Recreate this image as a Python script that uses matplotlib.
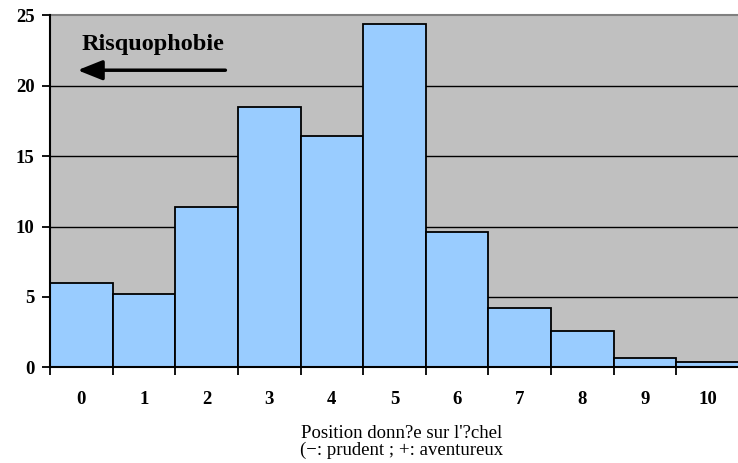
import matplotlib
matplotlib.use("Agg")
import matplotlib.pyplot as plt
import numpy as np

categories = ["0", "1", "2", "3", "4", "5", "6", "7", "8", "9", "10"]
values = [6.0, 5.2, 11.4, 18.5, 16.4, 24.4, 9.6, 4.2, 2.6, 0.65, 0.38]
yticks = [0, 5, 10, 15, 20, 25]

plt.rcParams['font.family'] = ['Liberation Serif', 'DejaVu Serif']

fig = plt.figure(figsize=(7.38, 4.63), dpi=100)
ax = fig.add_axes([50/738, 1-367.3/463, 689/738, (367.3-15.3)/463])
ax.set_facecolor('#C0C0C0')

x = np.arange(len(categories))
ax.bar(x, values, width=1.0, color='#99CCFF', edgecolor='black', linewidth=1.3, zorder=3)

ax.set_xlim(-0.5, len(categories) - 0.5)
ax.set_ylim(0, 25)
ax.set_yticks(yticks)
ax.set_yticklabels([str(v) for v in yticks], fontweight='bold', fontsize=13.5)
for v in yticks[1:-1]:
    ax.axhline(v, color='black', linewidth=1.0, zorder=1)

ax.set_xticks(x)
ax.set_xticklabels(categories, fontweight='bold', fontsize=13.5)
ax.tick_params(axis='x', which='major', length=0, pad=17)
ax.set_xticks(np.arange(-0.5, len(categories), 1.0), minor=True)
ax.tick_params(axis='x', which='minor', length=6, width=1.3, direction='out', color='black')
ax.tick_params(axis='y', length=6, width=1.3, direction='out', pad=5)

for s in ['left', 'bottom']:
    ax.spines[s].set_color('black')
    ax.spines[s].set_linewidth(1.5)
    ax.spines[s].set_zorder(5)
ax.spines['top'].set_color('#808080')
ax.spines['top'].set_linewidth(1.5)
ax.spines['right'].set_visible(False)

ax.text(0.0, 22.9, "Risquophobie", fontweight='bold', fontsize=17.5, ha='left', va='center', zorder=6)
ax.annotate("", xy=(-0.06, 21.1), xytext=(2.3, 21.1),
            arrowprops=dict(arrowstyle='-|>,head_length=1.0,head_width=0.4', lw=2.5, color='black',
                            mutation_scale=15, shrinkA=0, shrinkB=0), zorder=6)

fig.text(402/738, 1-433/463, "Position donn?e sur l'?chel", ha='center', va='center', fontsize=13.5)
fig.text(402/738, 1-450/463, "(−: prudent ; +: aventureux", ha='center', va='center', fontsize=13.5)

fig.savefig("out.png", dpi=100)
